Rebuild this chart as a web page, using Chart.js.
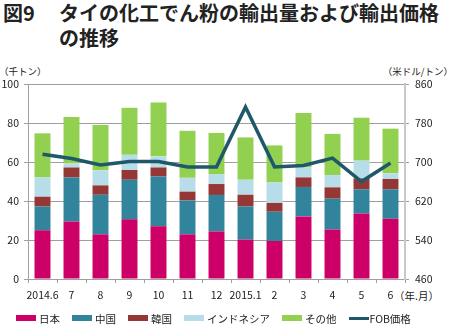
<!DOCTYPE html>
<html lang="ja">
<head>
<meta charset="utf-8">
<script src="https://cdn.jsdelivr.net/npm/chart.js@4"></script>
<style>
  html, body { margin: 0; padding: 0; background: #fff; }
  body { width: 450px; height: 329px; position: relative; overflow: hidden;
         font-family: "Noto Sans CJK JP", "Noto Sans", sans-serif; color: #222; }
  #c { position: absolute; left: 0; top: 0; }
  .title { position: absolute; font-weight: bold; font-size: 20px; line-height: 25px; white-space: nowrap; color: #222; }
  .unit { position: absolute; font-size: 9.5px; line-height: 12px; white-space: nowrap; }
  #legend { position: absolute; left: 16px; top: 311px; height: 14px; display: flex; align-items: center;
            gap: 12px; font-size: 10.5px; white-space: nowrap; }
  #legend .item { display: flex; align-items: center; }
  #legend .box { width: 20px; height: 6px; margin-right: 3px; }
  #legend .line { width: 20px; height: 3px; margin-right: 1px; }
</style>
</head>
<body>
<div class="title" style="left:3px; top:0px;">図9</div>
<div class="title" style="left:59px; top:0px;">タイの化工でん粉の輸出量および輸出価格</div>
<div class="title" style="left:59px; top:25px;">の推移</div>
<div class="unit" style="left:-1px; top:65px;">（千トン）</div>
<div class="unit" style="right:-3px; top:65px;">（米ドル/トン）</div>
<div class="unit" style="left:394px; top:290px; font-size:10.5px;">（年.月）</div>
<canvas id="c" width="450" height="329"></canvas>
<div id="legend"></div>
<script>
// 月別の輸出量（千トン）と FOB 価格（米ドル/トン）
const months = ['2014.6', '7', '8', '9', '10', '11', '12', '2015.1', '2', '3', '4', '5', '6'];
const japan = [25.0, 29.5, 22.9, 30.6, 27.0, 22.9, 24.4, 20.2, 19.5, 32.1, 25.4, 33.6, 30.9];
const china = [12.2, 22.6, 20.3, 20.3, 25.6, 17.4, 18.7, 17.0, 15.0, 15.1, 15.8, 12.4, 15.1];
const korea = [5.0, 5.1, 4.8, 5.0, 4.6, 4.5, 5.6, 6.0, 4.5, 4.9, 5.8, 5.6, 5.3];
const indonesia = [9.9, 2.1, 7.7, 7.8, 5.7, 7.1, 4.9, 7.7, 10.5, 5.3, 6.3, 9.1, 2.9];
const others = [22.6, 23.8, 23.3, 24.1, 27.6, 24.1, 21.3, 21.7, 19.0, 27.7, 21.1, 22.0, 22.9];
const fobPrice = [716, 707, 694, 701, 701, 690, 690, 813, 690, 693, 708, 660, 698];

const volumeTicks = [0, 20, 40, 60, 80, 100];
const priceTicks = [460, 540, 620, 700, 780, 860];

const barSeries = [
    { label: '日本', data: japan, color: '#cc0066' },
    { label: '中国', data: china, color: '#31849b' },
    { label: '韓国', data: korea, color: '#953735' },
    { label: 'インドネシア', data: indonesia, color: '#b7dee8' },
    { label: 'その他', data: others, color: '#92d050' }
];
const lineColor = '#1f5868';

const tickFont = { family: '"Noto Sans CJK JP", "Noto Sans", sans-serif', size: 10.5 };
const gridGray = '#a0a0a0';

const datasets = barSeries.map(function (s) {
    return {
        type: 'bar',
        label: s.label,
        data: s.data,
        backgroundColor: s.color,
        borderWidth: 0,
        yAxisID: 'y',
        order: 1,
        categoryPercentage: 1,
        barPercentage: 0.55
    };
});
datasets.push({
    type: 'line',
    label: 'FOB価格',
    data: fobPrice,
    borderColor: lineColor,
    backgroundColor: lineColor,
    borderWidth: 3.5,
    borderJoinStyle: 'miter',
    pointRadius: 0,
    tension: 0,
    fill: false,
    yAxisID: 'y1',
    order: 0
});

new Chart(document.getElementById('c'), {
    data: { labels: months, datasets: datasets },
    options: {
        responsive: false,
        animation: false,
        devicePixelRatio: 1,
        layout: { padding: { top: 84, left: 0, right: 0, bottom: 0 } },
        plugins: {
            legend: { display: false },
            tooltip: { enabled: false }
        },
        scales: {
            x: {
                stacked: true,
                grid: { display: true, drawOnChartArea: false, drawTicks: true, tickLength: 4, color: gridGray, offset: true },
                border: { color: gridGray },
                ticks: { color: '#222', font: tickFont, padding: 6, maxRotation: 0, autoSkip: false },
                afterFit: function (scale) { scale.height = 50; }
            },
            y: {
                stacked: true,
                min: volumeTicks[0],
                max: volumeTicks[volumeTicks.length - 1],
                afterBuildTicks: function (scale) { scale.ticks = volumeTicks.map(v => ({ value: v })); },
                grid: { color: gridGray, tickLength: 4 },
                border: { color: gridGray },
                ticks: { color: '#222', font: tickFont, padding: 5 },
                afterFit: function (scale) { scale.width = 28; }
            },
            y1: {
                position: 'right',
                min: priceTicks[0],
                max: priceTicks[priceTicks.length - 1],
                afterBuildTicks: function (scale) { scale.ticks = priceTicks.map(v => ({ value: v })); },
                grid: { drawOnChartArea: false, tickLength: 4, color: gridGray },
                border: { color: '#c8c8c8', width: 2 },
                ticks: { color: '#222', font: tickFont, padding: 6 },
                afterFit: function (scale) { scale.width = 45; }
            }
        }
    }
});

// 凡例
const legend = document.getElementById('legend');
barSeries.forEach(function (s) {
    const item = document.createElement('div');
    item.className = 'item';
    item.innerHTML = '<span class="box" style="background:' + s.color + '"></span><span>' + s.label + '</span>';
    legend.appendChild(item);
});
const lineItem = document.createElement('div');
lineItem.className = 'item';
lineItem.innerHTML = '<span class="line" style="background:' + lineColor + '"></span><span>FOB価格</span>';
legend.appendChild(lineItem);
</script>
</body>
</html>
